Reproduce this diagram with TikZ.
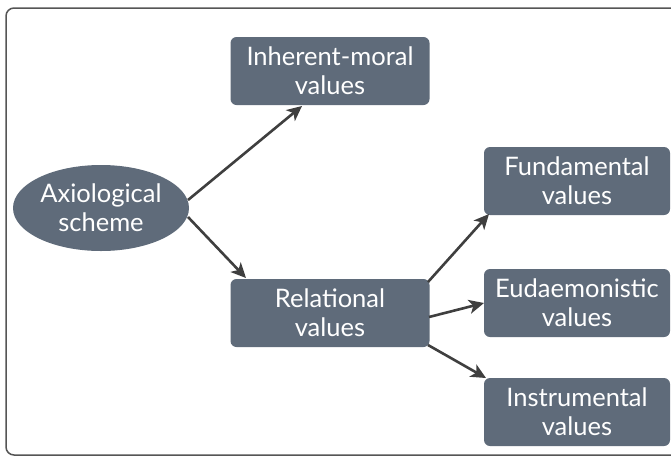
\documentclass[tikz,border=0pt]{standalone}
\usepackage{fontspec}
\setmainfont{Lato}
\usetikzlibrary{arrows.meta,shapes.geometric}
\definecolor{boxfill}{HTML}{5F6B7A}
\definecolor{arrowcol}{HTML}{3F3F3F}
\definecolor{framecol}{HTML}{555555}
\tikzset{
  valbox/.style={draw=none, fill=boxfill, rounded corners=6pt, minimum width=199pt, minimum height=68pt, text=white, align=center, font=\fontsize{25.5}{29}\selectfont, inner sep=0pt},
  smallbox/.style={valbox, minimum width=186pt},
  ovalnode/.style={ellipse, fill=boxfill, minimum width=176pt, minimum height=86pt, text=white, align=center, font=\fontsize{25.5}{29}\selectfont, inner sep=0pt},
  conn/.style={draw=arrowcol, line width=2.6pt, -{Stealth[length=15pt,width=14pt,inset=4pt]}}
}
\begin{document}
\begin{tikzpicture}[x=1pt,y=-1pt]
\useasboundingbox (0,0) rectangle (671,456);
\draw[framecol, line width=1.5pt, rounded corners=8pt] (6,8) rectangle (700,455);
\node[ovalnode] (axio) at (101,208) {Axiological\\scheme};
\node[valbox] (inh) at (330,71) {Inherent-moral\\values};
\node[valbox] (rel) at (330,313) {Relational\\values};
\node[smallbox] (fund) at (577,181) {Fundamental\\values};
\node[smallbox] (eud) at (577,303) {Eudaemonistic\\values};
\node[smallbox] (ins) at (577,412) {Instrumental\\values};
\coordinate (a1) at (188,200);
\coordinate (a2) at (188,217);
\coordinate (r1) at (428,282);
\coordinate (r2) at (429,317);
\coordinate (r3) at (428,345);
\coordinate (t1) at (302,106);
\coordinate (t2) at (246,278);
\coordinate (t3) at (489,214);
\coordinate (t4) at (484,303);
\coordinate (t5) at (486,378);
\draw[conn] (a1) -- (t1);
\draw[conn] (a2) -- (t2);
\draw[conn] (r1) -- (t3);
\draw[conn] (r2) -- (t4);
\draw[conn] (r3) -- (t5);
\end{tikzpicture}
\end{document}
